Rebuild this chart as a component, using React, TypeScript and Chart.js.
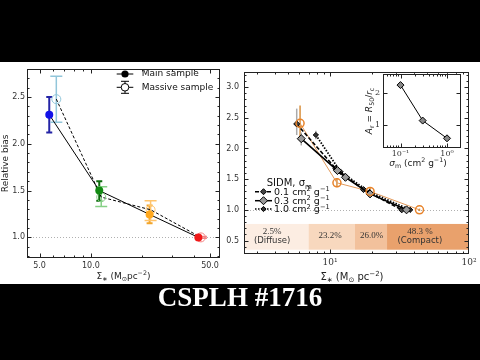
import React, { useEffect, useRef } from 'react';
import { Chart, registerables } from 'chart.js';

Chart.register(...registerables);

const SANS = '"DejaVu Sans", sans-serif';
const SERIF = '"DejaVu Serif", serif';
const TIMES = '"Liberation Serif", serif';

// ---------------- Left panel data ----------------
const leftMainX = [5.7, 11.2, 22.1, 42.7];
const leftMainY = [2.31, 1.5, 1.245, 1.0];
const leftMainLo = [2.12, 1.39, 1.15, 0.99];
const leftMainHi = [2.5, 1.6, 1.34, 1.01];
const leftMainColors = ['#1212e8', '#128a12', '#ffa81e', '#f01818'];
const leftMainErrColors = ['#2424a6', '#0c6c0c', '#f2a52a', '#d41010'];

const leftMassX = [6.27, 11.5, 22.4, 44.2];
const leftMassY = [2.476, 1.43, 1.295, 1.0];
const leftMassLo = [2.23, 1.33, 1.18, 0.99];
const leftMassHi = [2.72, 1.54, 1.39, 1.01];
const leftMassColors = ['#92c6da', '#86d086', '#ffc46c', '#f48484'];

const leftXTicks = [5, 10, 50];
const leftXTickLabels = ['5.0', '10.0', '50.0'];
const leftXMinor = [6, 7, 8, 9, 20, 30, 40];
const leftYTicks = [1.0, 1.5, 2.0, 2.5];
const leftYTickLabels = ['1.0', '1.5', '2.0', '2.5'];
const leftYMinor = [0.8, 0.9, 1.1, 1.2, 1.3, 1.4, 1.6, 1.7, 1.8, 1.9, 2.1, 2.2, 2.3, 2.4, 2.6, 2.7];
const leftLegendLabels = ['Main sample', 'Massive sample'];

// ---------------- Right panel data ----------------
const obsX = [6.08, 11.2, 19.4, 44];
const obsY = [2.41, 1.44, 1.3, 1.0];
const obsLo = [2.14, 1.37, 1.24, 0.98];
const obsHi = [2.7, 1.52, 1.36, 1.02];

const sidm01X = [5.75, 11.0, 17.4, 32.8];
const sidm01Y = [2.4, 1.67, 1.33, 1.0];
const sidm01Lo = [2.22, 1.62, 1.3, 0.98];
const sidm01Hi = [2.65, 1.72, 1.36, 1.02];

const sidm03X = [6.2, 11.3, 12.9, 19.4, 35.5];
const sidm03Y = [2.16, 1.64, 1.53, 1.26, 1.0];
const sidm03Lo = [2.05, 1.59, 1.49, 1.22, 0.98];
const sidm03Hi = [2.26, 1.69, 1.57, 1.3, 1.02];

const sidm10X = [7.9, 11.9, 19.2, 37.7];
const sidm10Y = [2.22, 1.62, 1.29, 1.0];
const sidm10Lo = [2.15, 1.57, 1.25, 0.98];
const sidm10Hi = [2.29, 1.67, 1.33, 1.02];

const sidmLegend = ['0.1', '0.3', '1.0'];

const bandEdges = [2.4, 7.0, 15.1, 25.7, 100];
const bandShares = ['2.5%', '23.2%', '26.0%', '48.3 %'];
const bandNotes = ['(Diffuse)', '', '', '(Compact)'];
const bandLabelX = [3.83, 10.0, 19.9, 44.3];
const bandColors = ['#fcede2', '#f8d8be', '#f2c19c', '#e9a16c'];
const bandYRange = [0.35, 0.77];

const rightXTicks = [10, 100];
const rightXTickLabels = ['10¹', '10²'];
const rightXMinor = [3, 4, 5, 6, 7, 8, 9, 20, 30, 40, 50, 60, 70, 80, 90];
const rightYTicks = [0.5, 1.0, 1.5, 2.0, 2.5, 3.0];
const rightYTickLabels = ['0.5', '1.0', '1.5', '2.0', '2.5', '3.0'];
const rightYMinor = [0.3, 0.4, 0.6, 0.7, 0.8, 0.9, 1.1, 1.2, 1.3, 1.4, 1.6, 1.7, 1.8, 1.9, 2.1, 2.2, 2.3, 2.4, 2.6, 2.7, 2.8, 2.9, 3.1, 3.2];

// ---------------- Inset data ----------------
const insetSigma = [0.1, 0.3, 1.0];
const insetAr = [2.25, 1.15, 0.6];
const insetXTicks = [0.1, 1];
const insetXTickLabels = ['10⁻¹', '10⁰'];
const insetXMinor = [0.05, 0.06, 0.07, 0.08, 0.09, 0.2, 0.3, 0.4, 0.5, 0.6, 0.7, 0.8, 0.9, 2];
const insetYTicks = [1, 2];
const insetYTickLabels = ['1', '2'];

const TITLE = 'CSPLH #1716';

// ---------------- helpers ----------------
type Part = { t: string; s?: number; dy?: number; it?: boolean };
function rich(ctx: any, x: number, y: number, parts: Part[], size: number, family: string, align: string, color: string) {
  const fontOf = (p: Part) => `${p.it ? 'italic ' : ''}${(size * (p.s || 1)).toFixed(2)}px ${family}`;
  let total = 0;
  const ws = parts.map((p) => {
    ctx.font = fontOf(p);
    const w = ctx.measureText(p.t).width;
    total += w;
    return w;
  });
  let cx = align === 'left' ? x : align === 'center' ? x - total / 2 : x - total;
  ctx.textAlign = 'left';
  ctx.textBaseline = 'alphabetic';
  ctx.fillStyle = color;
  parts.forEach((p, i) => {
    ctx.font = fontOf(p);
    ctx.fillText(p.t, cx, y + (p.dy || 0) * size);
    cx += ws[i];
  });
}

function pts(xs: number[], ys: number[]) {
  return xs.map((x, i) => ({ x, y: ys[i] }));
}

function diamond(ctx: any, x: number, y: number, r: number, fill: string) {
  ctx.beginPath();
  ctx.moveTo(x, y - r);
  ctx.lineTo(x + r, y);
  ctx.lineTo(x, y + r);
  ctx.lineTo(x - r, y);
  ctx.closePath();
  ctx.fillStyle = fill;
  ctx.fill();
  ctx.strokeStyle = '#000';
  ctx.lineWidth = 1;
  ctx.stroke();
}

const framePlugin = {
  id: 'frame',
  afterDraw(chart: any, _a: any, o: any) {
    const { ctx, chartArea: a } = chart;
    const xs = chart.scales.x;
    const ys = chart.scales.y;
    ctx.save();
    ctx.strokeStyle = o.color || '#222';
    ctx.lineWidth = 1;
    const L = Math.round(a.left) + 0.5;
    const R = Math.round(a.right) - 0.5;
    const T = Math.round(a.top) + 0.5;
    const B = Math.round(a.bottom) - 0.5;
    ctx.beginPath();
    const vt = (vals: number[], len: number) =>
      vals.forEach((v) => {
        const p = Math.round(xs.getPixelForValue(v)) + 0.5;
        if (p < L - 0.1 || p > R + 0.1) return;
        ctx.moveTo(p, B);
        ctx.lineTo(p, B - len);
        ctx.moveTo(p, T);
        ctx.lineTo(p, T + len);
      });
    const ht = (vals: number[], len: number) =>
      vals.forEach((v) => {
        const p = Math.round(ys.getPixelForValue(v)) + 0.5;
        if (p < T - 0.1 || p > B + 0.1) return;
        ctx.moveTo(L, p);
        ctx.lineTo(L + len, p);
        ctx.moveTo(R, p);
        ctx.lineTo(R - len, p);
      });
    vt(o.xMajor, o.major);
    vt(o.xMinor, o.minor);
    ht(o.yMajor, o.major);
    ht(o.yMinor, o.minor);
    ctx.stroke();
    ctx.strokeRect(L, T, R - L, B - T);
    ctx.restore();
  },
};

const errPlugin = {
  id: 'errbars',
  beforeDatasetsDraw(chart: any) {
    const { ctx } = chart;
    const ys = chart.scales.y;
    chart.data.datasets.forEach((ds: any, i: number) => {
      if (!ds.errLo) return;
      const meta = chart.getDatasetMeta(i);
      ctx.save();
      ctx.lineWidth = ds.errWidth || 1;
      meta.data.forEach((pt: any, j: number) => {
        const c = Array.isArray(ds.errColor) ? ds.errColor[j] : ds.errColor;
        const y1 = ys.getPixelForValue(ds.errLo[j]);
        const y2 = ys.getPixelForValue(ds.errHi[j]);
        ctx.strokeStyle = c;
        ctx.beginPath();
        ctx.moveTo(pt.x, y1);
        ctx.lineTo(pt.x, y2);
        if (ds.capHalf) {
          ctx.moveTo(pt.x - ds.capHalf, y1);
          ctx.lineTo(pt.x + ds.capHalf, y1);
          ctx.moveTo(pt.x - ds.capHalf, y2);
          ctx.lineTo(pt.x + ds.capHalf, y2);
        }
        ctx.stroke();
      });
      ctx.restore();
    });
  },
};

const hlinePlugin = {
  id: 'hline',
  beforeDatasetsDraw(chart: any, _a: any, o: any) {
    const { ctx, chartArea: a } = chart;
    const y = Math.round(chart.scales.y.getPixelForValue(o.value)) + 0.5;
    ctx.save();
    ctx.strokeStyle = '#b0b0b0';
    ctx.lineWidth = 1;
    ctx.setLineDash([1, 2]);
    ctx.beginPath();
    ctx.moveTo(a.left, y);
    ctx.lineTo(a.right, y);
    ctx.stroke();
    ctx.restore();
  },
};

const bandPlugin = {
  id: 'bands',
  beforeDatasetsDraw(chart: any) {
    const { ctx, chartArea: a } = chart;
    const xs = chart.scales.x;
    const ys = chart.scales.y;
    const yTop = ys.getPixelForValue(bandYRange[1]);
    const yBot = ys.getPixelForValue(bandYRange[0]);
    const yc = (yTop + yBot) / 2;
    ctx.save();
    for (let i = 0; i < bandColors.length; i++) {
      const x0 = Math.max(a.left, xs.getPixelForValue(bandEdges[i]));
      const x1 = Math.min(a.right, xs.getPixelForValue(bandEdges[i + 1]));
      ctx.fillStyle = bandColors[i];
      ctx.fillRect(x0, yTop, x1 - x0, yBot - yTop);
    }
    ctx.textAlign = 'center';
    ctx.textBaseline = 'middle';
    ctx.fillStyle = '#333';
    for (let i = 0; i < bandShares.length; i++) {
      const x = xs.getPixelForValue(bandLabelX[i]);
      if (bandNotes[i]) {
        ctx.font = `9px ${TIMES}`;
        ctx.fillText(bandShares[i], x, yc - 5);
        ctx.font = `8.5px ${SANS}`;
        ctx.fillText(bandNotes[i], x, yc + 4);
      } else {
        ctx.font = `9px ${TIMES}`;
        ctx.fillText(bandShares[i], x, yc - 1);
      }
    }
    ctx.restore();
  },
};

const leftDecor = {
  id: 'leftDecor',
  afterDatasetsDraw(chart: any) {
    const { ctx, chartArea: a } = chart;
    ctx.save();
    // legend
    const y1 = 12;
    const y2 = 25.3;
    const x0 = 116.7;
    const x1 = 133.3;
    const xm = 125;
    const xt = 141.7;
    ctx.strokeStyle = '#000';
    ctx.lineWidth = 1;
    ctx.beginPath();
    ctx.moveTo(x0, y1);
    ctx.lineTo(x1, y1);
    ctx.moveTo(x0, y2);
    ctx.lineTo(x1, y2);
    ctx.moveTo(xm, y2 - 6);
    ctx.lineTo(xm, y2 + 6);
    ctx.moveTo(xm - 4, y2 - 6);
    ctx.lineTo(xm + 4, y2 - 6);
    ctx.moveTo(xm - 4, y2 + 6);
    ctx.lineTo(xm + 4, y2 + 6);
    ctx.stroke();
    ctx.fillStyle = '#000';
    ctx.beginPath();
    ctx.arc(xm, y1, 3.6, 0, Math.PI * 2);
    ctx.fill();
    ctx.fillStyle = '#fff';
    ctx.beginPath();
    ctx.arc(xm, y2, 3.8, 0, Math.PI * 2);
    ctx.fill();
    ctx.stroke();
    ctx.fillStyle = '#111';
    ctx.font = `9px ${SANS}`;
    ctx.textAlign = 'left';
    ctx.textBaseline = 'middle';
    ctx.fillText(leftLegendLabels[0], xt, y1);
    ctx.fillText(leftLegendLabels[1], xt, y2);
    // y title
    ctx.save();
    ctx.translate(5.5, (a.top + a.bottom) / 2);
    ctx.rotate(-Math.PI / 2);
    ctx.textAlign = 'center';
    ctx.textBaseline = 'middle';
    ctx.font = `9px ${SANS}`;
    ctx.fillStyle = '#222';
    ctx.fillText('Relative bias', 0, 0);
    ctx.restore();
    // x title
    rich(
      ctx,
      (a.left + a.right) / 2,
      217,
      [
        { t: 'Σ' },
        { t: '∗', s: 0.7, dy: 0.25 },
        { t: ' (M' },
        { t: '⊙', s: 0.7, dy: 0.25 },
        { t: 'pc' },
        { t: '−2', s: 0.7, dy: -0.4 },
        { t: ')' },
      ],
      9,
      SANS,
      'center',
      '#222'
    );
    ctx.restore();
  },
};

const rightDecor = {
  id: 'rightDecor',
  afterDatasetsDraw(chart: any) {
    const { ctx } = chart;
    ctx.save();
    rich(ctx, 46.7, 124, [{ t: 'SIDM, σ' }, { t: 'm', s: 0.7, dy: 0.25 }], 10, SANS, 'left', '#111');
    const rows = [129.7, 138.7, 147];
    const dashes = [[4, 2], [], [1.5, 1.5]];
    const mr = [3, 4, 2.6];
    const mf = ['#444', '#999', '#333'];
    rows.forEach((y, i) => {
      ctx.strokeStyle = '#000';
      ctx.lineWidth = 1.5;
      ctx.setLineDash(dashes[i]);
      ctx.beginPath();
      ctx.moveTo(35, y);
      ctx.lineTo(52, y);
      ctx.stroke();
      ctx.setLineDash([]);
      diamond(ctx, 43.5, y, mr[i], mf[i]);
      rich(
        ctx,
        54,
        y + 3.3,
        [{ t: sidmLegend[i] + ' cm' }, { t: '2', s: 0.7, dy: -0.4 }, { t: ' g' }, { t: '−1', s: 0.7, dy: -0.4 }],
        9.5,
        SANS,
        'left',
        '#111'
      );
    });
    rich(
      ctx,
      132,
      217.5,
      [
        { t: 'Σ' },
        { t: '∗', s: 0.7, dy: 0.25 },
        { t: ' (M' },
        { t: '⊙', s: 0.7, dy: 0.25 },
        { t: ' pc' },
        { t: '−2', s: 0.7, dy: -0.4 },
        { t: ')' },
      ],
      10,
      SANS,
      'center',
      '#222'
    );
    ctx.restore();
  },
};

const insetDecor = {
  id: 'insetDecor',
  beforeDraw(chart: any) {
    const { ctx, chartArea: a } = chart;
    ctx.save();
    ctx.fillStyle = '#fff';
    ctx.fillRect(a.left, a.top, a.right - a.left, a.bottom - a.top);
    ctx.restore();
  },
  afterDraw(chart: any) {
    const { ctx, chartArea: a } = chart;
    ctx.save();
    rich(
      ctx,
      62,
      100,
      [
        { t: 'σ', it: true },
        { t: 'm', s: 0.7, dy: 0.25 },
        { t: ' (cm' },
        { t: '2', s: 0.7, dy: -0.4 },
        { t: ' g' },
        { t: '−1', s: 0.7, dy: -0.4 },
        { t: ')' },
      ],
      9,
      SANS,
      'center',
      '#222'
    );
    ctx.translate(13, (a.top + a.bottom) / 2);
    ctx.rotate(-Math.PI / 2);
    rich(
      ctx,
      0,
      3,
      [
        { t: 'A', it: true },
        { t: 'r', s: 0.7, dy: 0.25 },
        { t: ' = ' },
        { t: 'R', it: true },
        { t: '50', s: 0.7, dy: 0.25 },
        { t: '/' },
        { t: 'r', it: true },
        { t: 'c', s: 0.7, dy: 0.25 },
      ],
      9,
      SANS,
      'center',
      '#222'
    );
    ctx.restore();
  },
};

function baseScale(kind: string, min: number, max: number, ticks: number[], labels: string[], font: any, pad: number, fit: (s: any) => void) {
  return {
    type: kind,
    min,
    max,
    afterBuildTicks: (s: any) => {
      s.ticks = ticks.map((v) => ({ value: v }));
    },
    afterFit: fit,
    ticks: {
      autoSkip: false,
      maxRotation: 0,
      padding: pad,
      color: '#333',
      font,
      callback: (_v: any, i: number) => labels[i],
    },
    grid: { display: false, drawTicks: false },
    border: { display: false },
  };
}

function leftConfig(): any {
  return {
    type: 'scatter',
    data: {
      datasets: [
        {
          data: pts(leftMainX, leftMainY),
          pointRadius: 4,
          pointBackgroundColor: leftMainColors,
          pointBorderColor: leftMainColors,
          pointBorderWidth: 0,
          errLo: leftMainLo,
          errHi: leftMainHi,
          errColor: leftMainErrColors,
          errWidth: 2,
          capHalf: 3,
        },
        {
          data: pts(leftMassX, leftMassY),
          pointRadius: 4.5,
          pointBackgroundColor: 'rgba(255,255,255,0)',
          pointBorderColor: leftMassColors,
          pointBorderWidth: 1,
          errLo: leftMassLo,
          errHi: leftMassHi,
          errColor: leftMassColors,
          errWidth: 1.5,
          capHalf: 6,
        },
        {
          data: pts(leftMainX, leftMainY),
          showLine: true,
          pointRadius: 0,
          borderColor: '#000',
          borderWidth: 1,
        },
        {
          data: pts(leftMassX, leftMassY),
          showLine: true,
          pointRadius: 0,
          borderColor: '#000',
          borderWidth: 1,
          borderDash: [3, 2],
        },
      ],
    },
    options: {
      animation: false,
      responsive: false,
      devicePixelRatio: 1,
      events: [],
      layout: { padding: { top: 1, right: 20, left: 0, bottom: 0 } },
      plugins: {
        legend: { display: false },
        tooltip: { enabled: false },
        hline: { value: 1.0 },
        frame: { xMajor: leftXTicks, xMinor: leftXMinor, yMajor: leftYTicks, yMinor: leftYMinor, major: 4, minor: 2, color: '#222' },
      },
      scales: {
        x: baseScale('logarithmic', 4.22, 57.2, leftXTicks, leftXTickLabels, { family: SANS, size: 8 }, 3, (s: any) => {
          s.height = 26;
        }),
        y: baseScale('linear', 0.78, 2.8, leftYTicks, leftYTickLabels, { family: SANS, size: 8 }, 2, (s: any) => {
          s.width = 27;
        }),
      },
    },
    plugins: [hlinePlugin, errPlugin, framePlugin, leftDecor],
  };
}

function rightConfig(): any {
  return {
    type: 'scatter',
    data: {
      datasets: [
        {
          data: pts(obsX, obsY),
          pointRadius: 4,
          pointBackgroundColor: 'rgba(255,255,255,0)',
          pointBorderColor: '#e8832a',
          pointBorderWidth: 1.5,
          errLo: obsLo,
          errHi: obsHi,
          errColor: '#d99140',
          errWidth: 1.5,
        },
        {
          data: pts(sidm03X, sidm03Y),
          showLine: true,
          borderColor: '#000',
          borderWidth: 1.6,
          pointStyle: 'rectRot',
          pointRadius: 4,
          pointBackgroundColor: '#999',
          pointBorderColor: '#000',
          pointBorderWidth: 1,
          errLo: sidm03Lo,
          errHi: sidm03Hi,
          errColor: '#aaa',
          errWidth: 1.5,
        },
        {
          data: pts(sidm01X, sidm01Y),
          showLine: true,
          borderColor: '#000',
          borderWidth: 1.6,
          borderDash: [4, 2],
          pointStyle: 'rectRot',
          pointRadius: 3,
          pointBackgroundColor: '#444',
          pointBorderColor: '#000',
          pointBorderWidth: 1,
          errLo: sidm01Lo,
          errHi: sidm01Hi,
          errColor: '#aaa',
          errWidth: 1.5,
        },
        {
          data: pts(sidm10X, sidm10Y),
          showLine: true,
          borderColor: '#000',
          borderWidth: 1.8,
          borderDash: [1.5, 1.5],
          pointStyle: 'rectRot',
          pointRadius: 2.6,
          pointBackgroundColor: '#333',
          pointBorderColor: '#000',
          pointBorderWidth: 1,
          errLo: sidm10Lo,
          errHi: sidm10Hi,
          errColor: '#aaa',
          errWidth: 1.5,
        },
        {
          data: pts(obsX, obsY),
          showLine: true,
          pointRadius: 0,
          borderColor: '#e29a5c',
          borderWidth: 1,
        },
      ],
    },
    options: {
      animation: false,
      responsive: false,
      devicePixelRatio: 1,
      events: [],
      layout: { padding: { top: 2, right: 11, left: 0, bottom: 0 } },
      plugins: {
        legend: { display: false },
        tooltip: { enabled: false },
        hline: { value: 1.0 },
        frame: { xMajor: rightXTicks, xMinor: rightXMinor, yMajor: rightYTicks, yMinor: rightYMinor, major: 4, minor: 2, color: '#222' },
      },
      scales: {
        x: baseScale('logarithmic', 2.4, 100, rightXTicks, rightXTickLabels, { family: SERIF, size: 9 }, 3, (s: any) => {
          s.height = 30;
        }),
        y: baseScale('linear', 0.28, 3.25, rightYTicks, rightYTickLabels, { family: SANS, size: 8 }, 5, (s: any) => {
          s.width = 24;
        }),
      },
    },
    plugins: [bandPlugin, hlinePlugin, errPlugin, framePlugin, rightDecor],
  };
}

function insetConfig(): any {
  return {
    type: 'scatter',
    data: {
      datasets: [
        {
          data: pts(insetSigma, insetAr),
          showLine: true,
          borderColor: '#000',
          borderWidth: 1,
          pointStyle: 'rectRot',
          pointRadius: 3.5,
          pointBackgroundColor: '#888',
          pointBorderColor: '#000',
          pointBorderWidth: 1,
        },
      ],
    },
    options: {
      animation: false,
      responsive: false,
      devicePixelRatio: 1,
      events: [],
      layout: { padding: { top: 6, right: 4, left: 0, bottom: 0 } },
      plugins: {
        legend: { display: false },
        tooltip: { enabled: false },
        frame: { xMajor: insetXTicks, xMinor: insetXMinor, yMajor: insetYTicks, yMinor: [], major: 4, minor: 2, color: '#222' },
      },
      scales: {
        x: baseScale('logarithmic', 0.042, 2.0, insetXTicks, insetXTickLabels, { family: SERIF, size: 8 }, 1.5, (s: any) => {
          s.height = 22;
        }),
        y: baseScale('linear', 0.3, 2.6, insetYTicks, insetYTickLabels, { family: SERIF, size: 8 }, 3, (s: any) => {
          s.width = 27;
        }),
      },
    },
    plugins: [insetDecor, framePlugin],
  };
}

export default function App() {
  const leftRef = useRef<HTMLCanvasElement>(null);
  const rightRef = useRef<HTMLCanvasElement>(null);
  const insetRef = useRef<HTMLCanvasElement>(null);

  useEffect(() => {
    document.body.style.margin = '0';
    const charts = [
      new Chart(leftRef.current as HTMLCanvasElement, leftConfig()),
      new Chart(rightRef.current as HTMLCanvasElement, rightConfig()),
      new Chart(insetRef.current as HTMLCanvasElement, insetConfig()),
    ];
    return () => charts.forEach((c) => c.destroy());
  }, []);

  const abs = (l: number, t: number, w: number, h: number): any => ({ position: 'absolute', left: l, top: t, width: w, height: h });

  return (
    <div style={{ position: 'fixed', left: 0, top: 0, width: 480, height: 360, background: '#000', overflow: 'hidden' }}>
      <div style={{ ...abs(0, 62, 480, 222), background: '#fff' }} />
      <canvas ref={leftRef} width={240} height={222} style={abs(0, 62, 240, 222)} />
      <canvas ref={rightRef} width={260} height={222} style={abs(220, 62, 260, 222)} />
      <canvas ref={insetRef} width={110} height={104} style={abs(356, 66, 110, 104)} />
      <div
        style={{
          position: 'absolute',
          left: 0,
          top: 284,
          width: 480,
          textAlign: 'center',
          color: '#fff',
          fontFamily: '"Liberation Serif", serif',
          fontWeight: 'bold',
          fontSize: 27,
          lineHeight: '27px',
        }}
      >
        {TITLE}
      </div>
    </div>
  );
}
